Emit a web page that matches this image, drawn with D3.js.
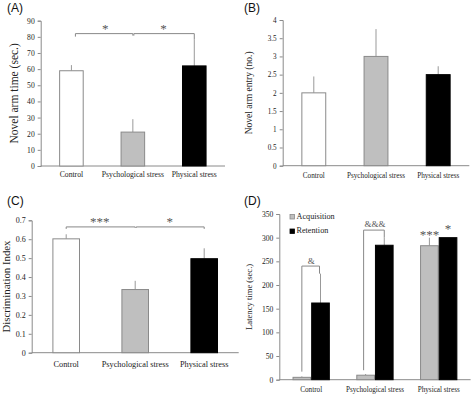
<!DOCTYPE html>
<html><head><meta charset="utf-8">
<script src="https://cdn.jsdelivr.net/npm/d3@7"></script>
<style>body{margin:0;background:#fff}svg{display:block}</style>
</head><body>
<svg id="c" width="474" height="396"></svg>
<script>
// ---- data ----
const categories = ["Control", "Psychological stress", "Physical stress"];
const novelArmTime = [59, 21, 62];
const novelArmTimeErr = [3.5, 8, 16.5];
const novelArmEntry = [2, 3, 2.5];
const novelArmEntryErr = [0.45, 0.75, 0.23];
const discriminationIndex = [0.602, 0.334, 0.497];
const discriminationIndexErr = [0.024, 0.046, 0.055];
const series = ["Acquisition", "Retention"];
const acquisition = [5, 9.5, 283];
const acquisitionErr = [2, 2.5, 17];
const retention = [162, 284, 300];
const retentionErr = [62, 17, 0];
const ticksA = d3.range(0, 91, 10);
const ticksB = d3.range(0, 4.01, 0.5);
const ticksC = d3.range(0, 0.701, 0.1);
const ticksD = d3.range(0, 351, 50);

const svg = d3.select("#c");
const SERIF = "'Liberation Serif','Times New Roman',serif";
const AX = "#8a8a8a";
const groupFills = ["#ffffff", "#bfbfbf", "#000000"];
const groupStrokes = ["#8a8a8a", "#8a8a8a", "#000000"];

function axes(o) {
  const x = d3.scaleBand().domain(categories).range([o.xl, o.xr]).paddingInner(o.pad).paddingOuter(o.pad / 2);
  const y = d3.scaleLinear().domain([0, o.ymax]).range([o.yb, o.yt]);
  const g = svg.append("g");
  const ya = d3.axisLeft(y).tickValues(o.ticks).tickSize(3).tickPadding(3).tickFormat(o.fmt);
  const yg = g.append("g").attr("transform", `translate(${o.xl},0)`).call(ya);
  yg.select(".domain").attr("stroke", AX);
  yg.selectAll(".tick line").attr("stroke", AX);
  yg.selectAll(".tick text").attr("font-family", SERIF).attr("font-size", o.tfs).attr("fill", "#222");
  const xa = d3.axisBottom(x).tickSize(0).tickPadding(o.xpad);
  const xg = g.append("g").attr("transform", `translate(0,${o.yb})`).call(xa);
  xg.select(".domain").attr("stroke", AX).attr("d", `M${o.xl},0H${o.xr}`);
  xg.selectAll(".tick text").attr("font-family", SERIF).attr("font-size", o.cfs).attr("fill", "#222");
  g.append("text").attr("transform", `translate(${o.tx},${(o.yt + o.yb) / 2}) rotate(-90)`)
    .attr("text-anchor", "middle").attr("dominant-baseline", "middle")
    .attr("font-family", SERIF).attr("font-size", o.tifs).attr("fill", "#222").text(o.title);
  g.append("text").attr("x", o.lx).attr("y", o.ly).attr("font-family", "'Liberation Sans',Arial,sans-serif")
    .attr("font-size", 12).attr("fill", "#111").text(o.label);
  return {g, x, y};
}

function simpleBars(o, vals, errs) {
  const {g, x, y} = axes(o);
  const bw = x.bandwidth();
  g.selectAll("line.err").data(categories).join("line")
    .attr("x1", d => x(d) + bw / 2).attr("x2", d => x(d) + bw / 2)
    .attr("y1", (d, i) => y(vals[i])).attr("y2", (d, i) => y(vals[i] + errs[i]))
    .attr("stroke", "#999").attr("stroke-width", 1);
  g.selectAll("rect.bar").data(categories).join("rect")
    .attr("x", d => x(d) + 0.5).attr("width", bw - 1)
    .attr("y", (d, i) => y(vals[i])).attr("height", (d, i) => y(0) - y(vals[i]))
    .attr("fill", (d, i) => groupFills[i]).attr("stroke", (d, i) => groupStrokes[i]).attr("stroke-width", 1);
  return {g, x, y};
}

function bracket(g, x1, x2, yy, drop1, drop2) {
  g.append("path").attr("d", `M${x1},${yy + drop1}V${yy}H${x2}V${yy + drop2}`)
    .attr("fill", "none").attr("stroke", "#888").attr("stroke-width", 1);
}
function mark(g, xx, yy, txt, fs) {
  g.append("text").attr("x", xx).attr("y", yy).attr("text-anchor", "middle")
    .attr("font-family", SERIF).attr("font-size", fs).attr("fill", "#555").text(txt);
}

// ---- Panel A ----
{
  const {g, x, y} = simpleBars({xl: 40.7, xr: 225, pad: 0.6, yb: 166, yt: 20.7, ymax: 90, ticks: ticksA,
    fmt: d3.format("d"), tfs: 7.6, cfs: 7.7, xpad: 6, title: "Novel arm time (sec.)", tifs: 11.5, tx: 15,
    label: "(A)", lx: 7, ly: 12}, novelArmTime, novelArmTimeErr);
  const c = categories.map(d => x(d) + x.bandwidth() / 2);
  const yb = y(82);
  bracket(g, c[0] + 4, c[1], yb, 3, 2);
  bracket(g, c[1] + 1, c[2], yb, 2, y(novelArmTime[2] + novelArmTimeErr[2]) - yb);
  mark(g, (c[0] + c[1]) / 2 + 3, yb - 0.5, "*", 13);
  mark(g, (c[1] + c[2]) / 2, yb - 0.5, "*", 13);
}
// ---- Panel B ----
{
  simpleBars({xl: 282.7, xr: 469.3, pad: 0.6, yb: 165.7, yt: 20, ymax: 4, ticks: ticksB,
    fmt: d => d3.format("")(+d.toFixed(1)), tfs: 7.2, cfs: 7.2, xpad: 7, title: "Novel arm entry (no.)", tifs: 9.5, tx: 250.3,
    label: "(B)", lx: 244, ly: 12}, novelArmEntry, novelArmEntryErr);
}
// ---- Panel C ----
{
  const {g, x, y} = simpleBars({xl: 31.7, xr: 238.7, pad: 0.6, yb: 352.7, yt: 220.3, ymax: 0.7, ticks: ticksC,
    fmt: d => d === 0 ? "0" : d3.format(".1f")(d), tfs: 8, cfs: 8.3, xpad: 8, title: "Discrimination Index", tifs: 10.8, tx: 7.3,
    label: "(C)", lx: 7, ly: 205}, discriminationIndex, discriminationIndexErr);
  const c = categories.map(d => x(d) + x.bandwidth() / 2);
  const yb = y(0.665);
  bracket(g, c[0], c[1], yb, 2, 1);
  bracket(g, c[1] + 1, c[2], yb, 1, 2);
  mark(g, (c[0] + c[1]) / 2 - 1, yb - 1, "***", 13);
  mark(g, (c[1] + c[2]) / 2, yb - 1, "*", 13);
}
// ---- Panel D ----
{
  const o = {xl: 279.3, xr: 470.6, pad: 0.415, yb: 379.7, yt: 214, ymax: 350, ticks: ticksD,
    fmt: d3.format("d"), tfs: 7.6, cfs: 7.2, xpad: 7, title: "Latency time (sec.)", tifs: 8.6, tx: 249.7,
    label: "(D)", lx: 244, ly: 205};
  const {g, x, y} = axes(o);
  const xs = d3.scaleBand().domain(series).range([0, x.bandwidth()]);
  const vals = [acquisition, retention];
  const errs = [acquisitionErr, retentionErr];
  const sFill = ["#bfbfbf", "#000000"];
  const sStroke = ["#8a8a8a", "#000000"];
  series.forEach((s, si) => {
    g.selectAll(`line.e${si}`).data(categories).join("line")
      .attr("x1", d => x(d) + xs(s) + xs.bandwidth() / 2).attr("x2", d => x(d) + xs(s) + xs.bandwidth() / 2)
      .attr("y1", (d, i) => y(vals[si][i])).attr("y2", (d, i) => y(vals[si][i] + errs[si][i]))
      .attr("stroke", "#999");
    g.selectAll(`rect.s${si}`).data(categories).join("rect")
      .attr("x", d => x(d) + xs(s) + 0.5).attr("width", xs.bandwidth() - 1)
      .attr("y", (d, i) => y(vals[si][i])).attr("height", (d, i) => y(0) - y(vals[si][i]))
      .attr("fill", sFill[si]).attr("stroke", sStroke[si]);
  });
  const cx = (cat, s) => x(cat) + xs(s) + xs.bandwidth() / 2;
  const b0 = y(240);
  bracket(g, cx(categories[0], series[0]), cx(categories[0], series[1]) - 1, b0, y(17) - b0, y(retention[0] + retentionErr[0]) - b0);
  mark(g, (cx(categories[0], series[0]) + cx(categories[0], series[1])) / 2, b0 - 2, "&", 9);
  const b1 = y(316);
  bracket(g, cx(categories[1], series[0]) - 2, cx(categories[1], series[1]), b1, y(20) - b1, y(retention[1] + retentionErr[1]) - b1);
  mark(g, (cx(categories[1], series[0]) + cx(categories[1], series[1])) / 2, b1 - 3, "&&&", 9);
  mark(g, cx(categories[2], series[0]), y(acquisition[2] + acquisitionErr[2]) + 1, "***", 13);
  mark(g, cx(categories[2], series[1]), y(retention[2]) - 5, "*", 13);
  const lg = g.append("g");
  series.forEach((s, si) => {
    const ly = 217 + si * 14.5;
    lg.append("rect").attr("x", 290).attr("y", ly - 2.5).attr("width", 4.5).attr("height", 4.5)
      .attr("fill", sFill[si]).attr("stroke", sStroke[si]).attr("stroke-width", 0.8);
    lg.append("text").attr("x", 296.5).attr("y", ly).attr("dominant-baseline", "middle")
      .attr("font-family", SERIF).attr("font-size", 8.2).attr("fill", "#222").text(s);
  });
}
</script>
</body></html>
